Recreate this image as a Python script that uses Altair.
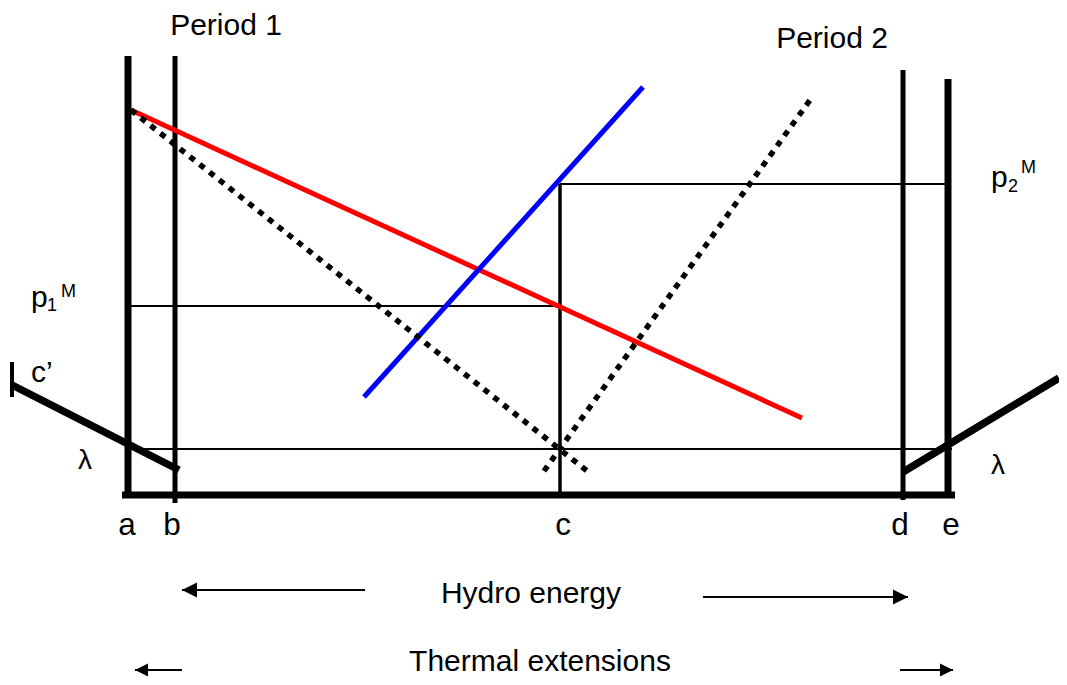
import altair as alt
import pandas as pd

# ---- line segments of the diagram (pixel-like coordinates of the sketch) ----
seg_name = ["a", "b", "c", "d", "e", "base",
            "p1M", "lambda", "p2M",
            "demand_red", "supply_blue", "dotted1", "dotted2",
            "cprime", "cprime_tick", "thermal2"]
seg_x1 = [128, 175, 560, 903, 948, 122, 131, 131, 560, 131, 364, 131, 544, 12, 12, 903]
seg_y1 = [56, 56, 184, 70, 79, 495, 306, 449, 184, 110, 397, 110, 471, 385, 362, 472]
seg_x2 = [128, 175, 560, 903, 948, 955, 560, 952, 948, 802, 643, 591, 810, 179, 12, 1059]
seg_y2 = [495, 503, 495, 500, 495, 495, 306, 449, 184, 418, 87, 474, 100, 470, 397, 378]

# ---- arrows below the diagram ----
arrow_name = ["hydro_left", "hydro_right", "thermal_left", "thermal_right"]
arrow_tail_x = [365, 703, 182, 900]
arrow_tip_x = [182, 908, 135, 953]
arrow_y = [590, 597, 670, 670]

# ---- text labels ----
period_text = ["Period 1", "Period 2"]
period_x = [226, 832]
period_y = [35, 48]

letter_text = ["a", "b", "c", "d", "e"]
letter_x = [127, 172, 563, 900, 951]
letter_y = [535, 535, 535, 535, 535]

left_text = ["p", "p", "c\u2019"]
left_x = [31, 991, 31]
left_y = [307, 187, 382]

script_text = ["1", "M", "2", "M"]
script_x = [47, 61, 1008, 1021]
script_y = [311, 297, 192, 173]

lam_text = ["\u03bb", "\u03bb"]
lam_x = [85, 998]
lam_y = [469, 474]

caption_text = ["Hydro energy", "Thermal extensions"]
caption_x = [531, 540]
caption_y = [603, 670.5]

FONT = "Liberation Sans"

segs = pd.DataFrame({"name": seg_name, "x": seg_x1, "y": seg_y1,
                     "x2": seg_x2, "y2": seg_y2})
arrows = pd.DataFrame({"name": arrow_name, "tail": arrow_tail_x,
                       "tip": arrow_tip_x, "y": arrow_y})

xs = alt.Scale(domain=[8, 1059], nice=False, zero=False)
ys = alt.Scale(domain=[8, 677], nice=False, zero=False, reverse=True)


def seg_layer(names, width, color="black", dash=None):
    kw = dict(strokeWidth=width, color=color, strokeCap="butt")
    if dash is not None:
        kw["strokeDash"] = dash
    return alt.Chart(segs[segs["name"].isin(names)]).mark_rule(**kw).encode(
        x=alt.X("x:Q", scale=xs, axis=None),
        y=alt.Y("y:Q", scale=ys, axis=None),
        x2="x2:Q", y2="y2:Q")


def text_layer(texts, xv, yv, size, align):
    df = pd.DataFrame({"t": texts, "x": xv, "y": yv})
    return alt.Chart(df).mark_text(font=FONT, fontSize=size, align=align,
                                   baseline="alphabetic", color="black").encode(
        x=alt.X("x:Q", scale=xs, axis=None),
        y=alt.Y("y:Q", scale=ys, axis=None),
        text="t:N")


layers = [
    seg_layer(["p1M", "lambda", "p2M"], 2),
    seg_layer(["c"], 3.5),
    seg_layer(["b", "d"], 5),
    seg_layer(["a", "e", "base"], 7),
    seg_layer(["cprime", "thermal2"], 7.5),
    seg_layer(["cprime_tick"], 4),
    seg_layer(["demand_red"], 5, color="#FF0000"),
    seg_layer(["supply_blue"], 5, color="#0000FF"),
    seg_layer(["dotted1", "dotted2"], 5.5, dash=[6, 6.5]),
]

arrow_lines = alt.Chart(arrows).mark_rule(strokeWidth=2, color="black").encode(
    x=alt.X("tail:Q", scale=xs, axis=None),
    x2="tip:Q",
    y=alt.Y("y:Q", scale=ys, axis=None))


def head_layer(names, shape, size):
    return alt.Chart(arrows[arrows["name"].isin(names)]).mark_point(
        shape=shape, size=size, filled=True, color="black", opacity=1,
        strokeWidth=0).encode(
        x=alt.X("tip:Q", scale=xs, axis=None),
        y=alt.Y("y:Q", scale=ys, axis=None))


heads = [
    head_layer(["hydro_left"], "M0,0L2,-1L2,1Z", 225),
    head_layer(["hydro_right"], "M0,0L-2,-1L-2,1Z", 225),
    head_layer(["thermal_left"], "M0,0L2,-1L2,1Z", 169),
    head_layer(["thermal_right"], "M0,0L-2,-1L-2,1Z", 169),
]

texts = [
    text_layer(period_text, period_x, period_y, 30, "center"),
    text_layer(letter_text, letter_x, letter_y, 31.5, "center"),
    text_layer(left_text, left_x, left_y, 30, "left"),
    text_layer(script_text, script_x, script_y, 18, "left"),
    text_layer(lam_text, lam_x, lam_y, 28, "center"),
    text_layer(caption_text, caption_x, caption_y, 30, "center"),
]

chart = alt.layer(*layers, arrow_lines, *heads, *texts).properties(
    width=1051, height=669, padding=0,
    autosize=alt.AutoSizeParams(type="none"),
).configure_view(stroke=None)

chart.save("out.html", embed_options={"renderer": "svg", "actions": False})
